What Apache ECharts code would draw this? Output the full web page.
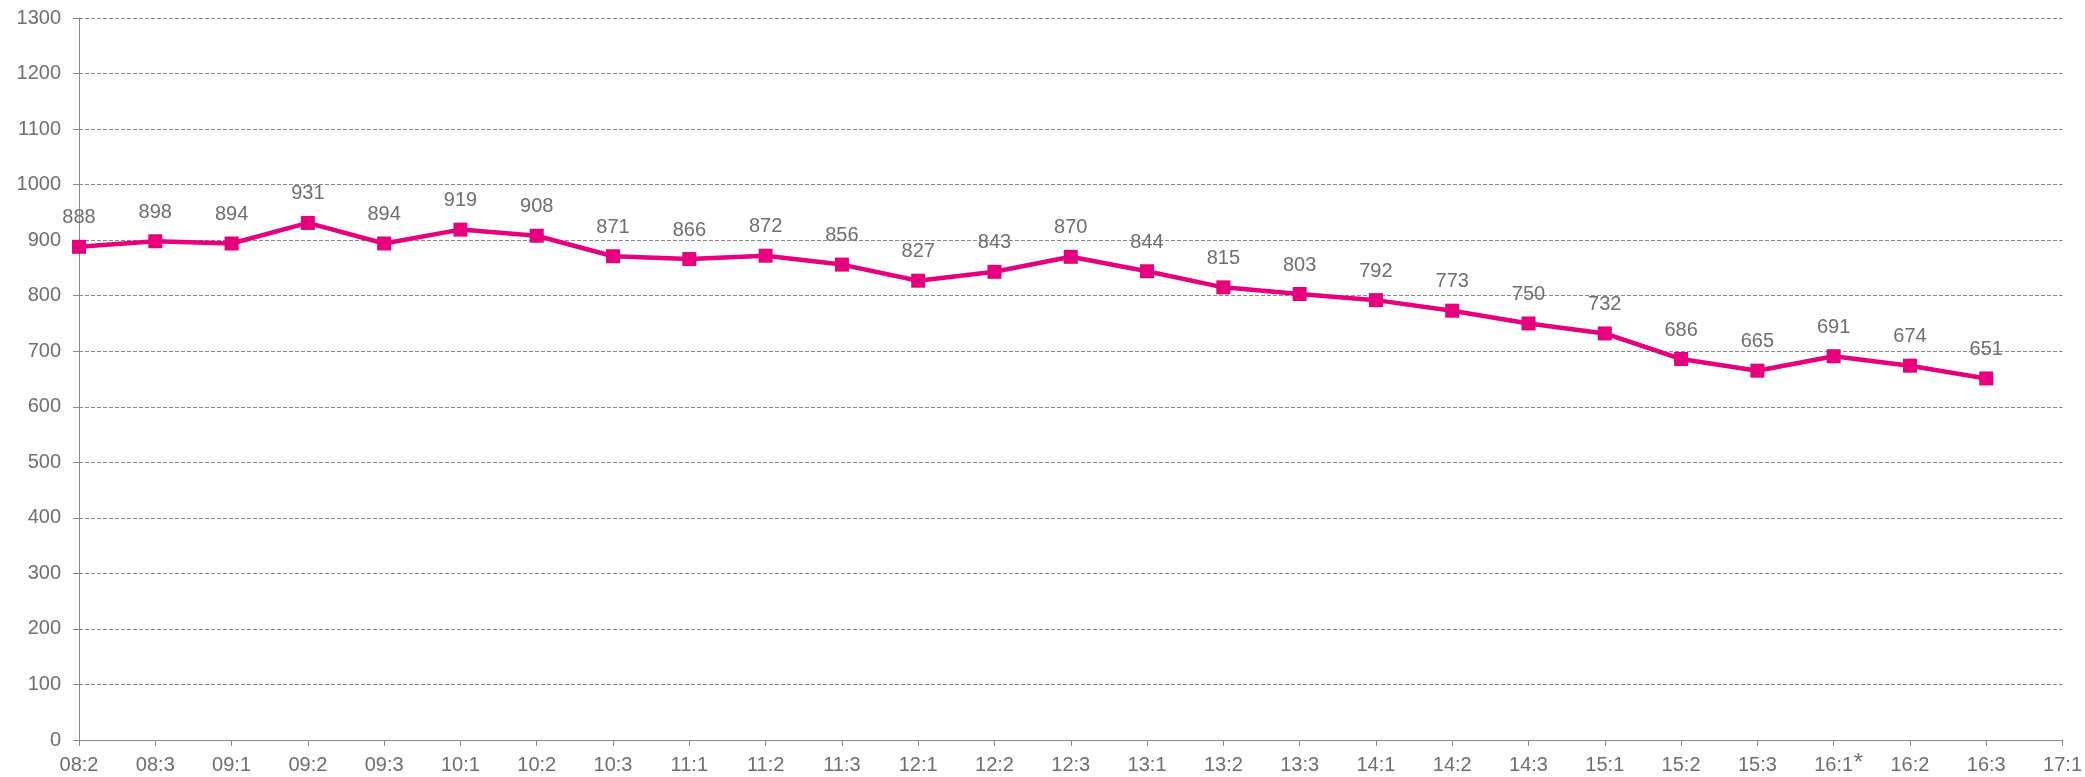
<!DOCTYPE html>
<html>
<head>
<meta charset="utf-8">
<script src="https://cdn.jsdelivr.net/npm/echarts@6/dist/echarts.min.js"></script>
<style>html,body{margin:0;padding:0;background:#fff}#c{width:2085px;height:777px}</style>
</head>
<body>
<div id="c"></div>
<script>
const categories = ['08:2','08:3','09:1','09:2','09:3','10:1','10:2','10:3','11:1','11:2','11:3','12:1','12:2','12:3','13:1','13:2','13:3','14:1','14:2','14:3','15:1','15:2','15:3','16:1*','16:2','16:3','17:1'];
const values = [888,898,894,931,894,919,908,871,866,872,856,827,843,870,844,815,803,792,773,750,732,686,665,691,674,651];
const yTicks = {min: 0, max: 1300, interval: 100};

const FONT = 'Liberation Sans, Arial, sans-serif';
const TXT = '#6e6e6e';
const chart = echarts.init(document.getElementById('c'), null, {renderer: 'canvas'});
chart.setOption({
  animation: false,
  backgroundColor: '#fff',
  grid: {left: 79, right: 22, top: 18, bottom: 37, containLabel: false},
  xAxis: {
    type: 'category',
    data: categories,
    boundaryGap: false,
    axisLine: {lineStyle: {color: '#888', width: 1}},
    axisTick: {length: 6, lineStyle: {color: '#888'}, alignWithLabel: true},
    axisLabel: {
      interval: 0, margin: 15, color: TXT, fontSize: 20, fontFamily: FONT,
      formatter: function (v) { return v.replace('*', ''); }
    },
    splitLine: {show: false}
  },
  yAxis: {
    type: 'value',
    min: yTicks.min, max: yTicks.max, interval: yTicks.interval,
    axisLine: {show: true, lineStyle: {color: '#888', width: 1}},
    axisTick: {show: true, length: 6, lineStyle: {color: '#888'}},
    axisLabel: {margin: 18, color: TXT, fontSize: 20, fontFamily: FONT, formatter: function (v) { return String(v); }},
    splitLine: {show: true, lineStyle: {color: '#888', type: [4, 2], width: 1}}
  },
  series: [{
    type: 'line',
    data: values,
    color: '#E6007E',
    lineStyle: {color: '#E6007E', width: 4.5},
    symbol: 'rect',
    symbolSize: 14,
    itemStyle: {color: '#E6007E'},
    label: {show: true, position: 'top', distance: 12, color: TXT, fontSize: 20, fontFamily: FONT}
  }]
});

// superscript asterisk on the marked category label
categories.forEach(function (c) {
  if (c.indexOf('*') >= 0) {
    const px = chart.convertToPixel({xAxisIndex: 0}, c);
    const py = chart.convertToPixel({yAxisIndex: 0}, 0);
    chart.setOption({graphic: [{
      type: 'text', left: px + 20, top: py + 11,
      style: {text: '*', fill: TXT, font: '24px ' + FONT}
    }]});
  }
});
</script>
</body>
</html>
